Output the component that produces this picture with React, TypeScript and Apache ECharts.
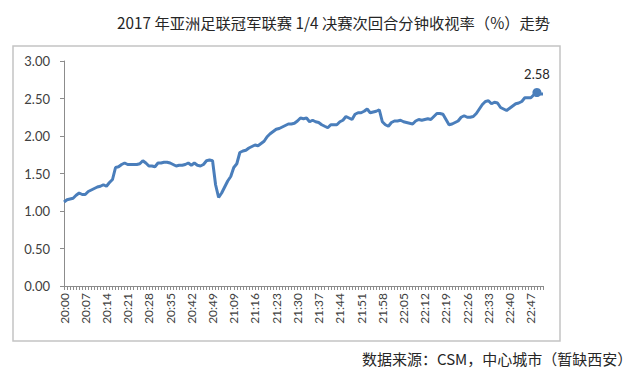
import React, { useEffect, useRef } from "react";
import * as echarts from "echarts";

// First-half minutes start at 20:00, second-half minutes start at 21:05
const firstHalfStart = [20, 0];
const firstHalfCount = 52;
const secondHalfStart = [21, 5];
const secondHalfCount = 107;

const pad = (n: number) => (n < 10 ? "0" + n : "" + n);
const buildTimes = (start: number[], count: number) => {
  const out: string[] = [];
  for (let k = 0; k < count; k++) {
    const m = start[0] * 60 + start[1] + k;
    out.push(Math.floor(m / 60) + ":" + pad(m % 60));
  }
  return out;
};
const categories: string[] = [
  ...buildTimes(firstHalfStart, firstHalfCount),
  ...buildTimes(secondHalfStart, secondHalfCount),
];

const ratings: number[] = [
  1.12, 1.15, 1.16, 1.17, 1.21, 1.24, 1.22, 1.22, 1.26, 1.28,
  1.30, 1.32, 1.33, 1.35, 1.33, 1.38, 1.42, 1.58, 1.59, 1.62,
  1.64, 1.62, 1.62, 1.62, 1.62, 1.63, 1.67, 1.64, 1.60, 1.60,
  1.59, 1.64, 1.64, 1.65, 1.65, 1.64, 1.62, 1.60, 1.61, 1.61,
  1.62, 1.64, 1.61, 1.64, 1.61, 1.60, 1.62, 1.67, 1.68, 1.67,
  1.35, 1.18, 1.24, 1.32, 1.40, 1.46, 1.58, 1.63, 1.78, 1.80,
  1.81, 1.84, 1.86, 1.88, 1.87, 1.90, 1.93, 1.99, 2.03, 2.06,
  2.09, 2.10, 2.12, 2.14, 2.16, 2.16, 2.17, 2.20, 2.24, 2.23,
  2.24, 2.19, 2.21, 2.19, 2.18, 2.15, 2.13, 2.11, 2.15, 2.15,
  2.15, 2.19, 2.21, 2.26, 2.24, 2.22, 2.29, 2.31, 2.31, 2.33,
  2.36, 2.31, 2.32, 2.33, 2.35, 2.19, 2.15, 2.13, 2.18, 2.20,
  2.20, 2.21, 2.19, 2.18, 2.17, 2.16, 2.20, 2.22, 2.21, 2.22,
  2.23, 2.22, 2.26, 2.30, 2.30, 2.29, 2.22, 2.15, 2.16, 2.18,
  2.20, 2.25, 2.27, 2.25, 2.25, 2.26, 2.30, 2.36, 2.42, 2.46,
  2.47, 2.43, 2.45, 2.44, 2.38, 2.36, 2.34, 2.37, 2.40, 2.43,
  2.44, 2.46, 2.51, 2.51, 2.51, 2.55, 2.58, 2.56, 2.56,
];

const peakIndex = 156;

const titleText = "2017 年亚洲足联冠军联赛 1/4 决赛次回合分钟收视率（%）走势";
const sourceText = "数据来源：CSM，中心城市（暂缺西安）";

const NUM_FONT = "Lato, 'Liberation Sans', sans-serif";
const CJK_FONT = "'Noto Sans CJK SC', 'Noto Sans', sans-serif";

export default function App() {
  const ref = useRef<HTMLDivElement>(null);
  useEffect(() => {
    document.body.style.margin = "0";
    if (!ref.current) return;
    const chart = echarts.init(ref.current, undefined, { renderer: "svg" });
    const lineColor = "#4a7ebb";
    chart.setOption({
      animation: false,
      backgroundColor: "#ffffff",
      title: {
        text: titleText,
        left: 112,
        top: 9,
        textStyle: {
          fontFamily: CJK_FONT,
          fontSize: 15.3,
          fontWeight: "normal",
          color: "#262626",
        },
      },
      graphic: [
        {
          type: "rect",
          shape: { x: 13, y: 46, width: 547, height: 295 },
          style: { fill: "none", stroke: "#c4c4c4", lineWidth: 1.5 },
          silent: true,
        },
        {
          type: "text",
          x: 362,
          y: 358,
          style: {
            text: sourceText,
            fontFamily: CJK_FONT,
            fontSize: 15,
            fill: "#262626",
            verticalAlign: "middle",
          },
        },
      ],
      grid: { left: 64, right: 97, top: 61, bottom: 91 },
      xAxis: {
        type: "category",
        data: categories,
        boundaryGap: false,
        axisLine: { lineStyle: { color: "#8c8c8c", width: 1 } },
        axisTick: { interval: 0, length: 4, lineStyle: { color: "#8c8c8c" } },
        axisLabel: {
          interval: 6,
          rotate: 90,
          fontFamily: NUM_FONT,
          fontSize: 12,
          color: "#404040",
          margin: 7,
        },
        splitLine: { show: false },
      },
      yAxis: {
        type: "value",
        min: 0,
        max: 3,
        interval: 0.5,
        axisLine: { show: true, lineStyle: { color: "#8c8c8c", width: 1 } },
        axisTick: { show: true, length: 4, lineStyle: { color: "#8c8c8c" } },
        axisLabel: {
          fontFamily: NUM_FONT,
          fontSize: 13,
          color: "#404040",
          margin: 14,
          formatter: (v: number) => v.toFixed(2),
        },
        splitLine: { show: false },
      },
      series: [
        {
          type: "line",
          symbol: "circle",
          showSymbol: true,
          symbolSize: (_v: any, p: any) => (p.dataIndex === peakIndex ? 9 : 0),
          lineStyle: { color: lineColor, width: 3 },
          itemStyle: { color: lineColor },
          data: ratings.map((v, i) =>
            i === peakIndex
              ? {
                  value: v,
                  label: {
                    show: true,
                    position: "top",
                    distance: 8,
                    formatter: (p: any) => Number(p.value).toFixed(2),
                    fontFamily: NUM_FONT,
                    fontSize: 13,
                    color: "#262626",
                  },
                }
              : v
          ),
        },
      ],
    });
    return () => chart.dispose();
  }, []);
  return <div ref={ref} style={{ width: 640, height: 377 }} />;
}
